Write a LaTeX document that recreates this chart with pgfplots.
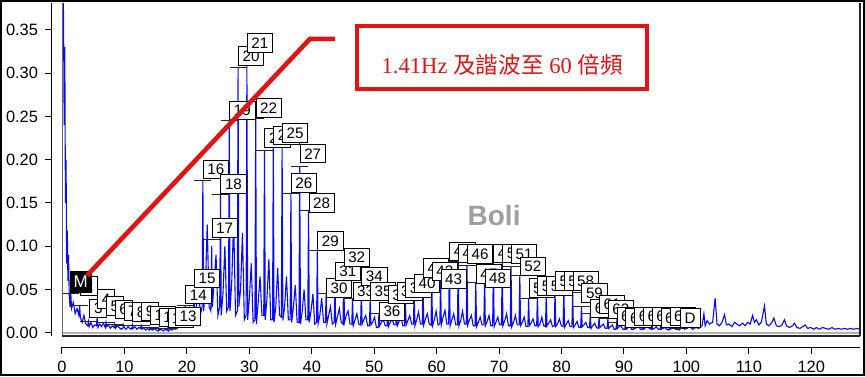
\documentclass[border=0pt]{standalone}
\usepackage{fontspec}
\setmainfont{Liberation Sans}
\newfontfamily\serifL{Liberation Serif}
\newfontfamily\cjk{Noto Sans CJK TC}
\usepackage{pgfplots}
\pgfplotsset{compat=1.18}
\definecolor{specblue}{RGB}{10,10,250}
\definecolor{annred}{RGB}{225,20,20}

\pgfplotstableread{
x y lab
2.95 0.043 2
4.40 0.017 3
5.64 0.028 4
7.05 0.020 5
8.46 0.016 6
9.87 0.014 7
11.28 0.013 8
12.69 0.014 9
14.10 0.009 10
15.51 0.007 11
16.92 0.006 12
18.10 0.008 13
19.74 0.033 14
21.15 0.052 15
22.56 0.178 16
23.97 0.110 17
25.38 0.161 18
26.79 0.246 19
28.20 0.309 20
29.61 0.324 21
31.02 0.249 22
32.43 0.214 23
33.84 0.217 24
35.25 0.220 25
36.66 0.162 26
38.07 0.196 27
39.48 0.139 28
40.89 0.095 29
42.30 0.041 30
43.71 0.060 31
45.12 0.076 32
46.53 0.037 33
47.94 0.054 34
49.35 0.037 35
50.76 0.014 36
52.17 0.033 37
53.58 0.037 38
54.99 0.041 39
56.40 0.046 40
57.81 0.064 41
59.22 0.060 42
60.63 0.051 43
62.04 0.083 44
63.45 0.081 45
64.86 0.080 46
66.27 0.057 47
67.68 0.052 48
69.09 0.081 49
70.50 0.081 50
71.91 0.080 51
73.32 0.066 52
74.73 0.041 53
76.14 0.043 54
77.55 0.043 55
78.96 0.049 56
80.37 0.049 57
81.78 0.049 58
83.19 0.035 59
84.60 0.017 60
86.01 0.022 61
87.42 0.016 62
88.83 0.008 63
90.24 0.006 64
91.65 0.008 65
93.06 0.008 66
94.47 0.008 67
95.88 0.006 68
97.29 0.008 69
99.00 0.006 D
}\labtable

\pgfplotstableread{
x y
1.41 0.045
2.82 0.032
4.23 0.013
5.64 0.018
7.05 0.012
8.46 0.010
9.87 0.009
11.28 0.009
12.69 0.008
14.10 0.006
15.51 0.005
16.92 0.005
18.33 0.007
19.74 0.031
21.15 0.052
22.56 0.176
23.97 0.108
25.38 0.160
26.79 0.245
28.20 0.307
29.61 0.310
31.02 0.248
32.43 0.211
33.84 0.219
35.25 0.215
36.66 0.161
38.07 0.192
39.48 0.141
40.89 0.095
42.30 0.045
43.71 0.058
45.12 0.074
46.53 0.040
47.94 0.047
49.35 0.038
50.76 0.022
52.17 0.028
53.58 0.033
54.99 0.040
56.40 0.048
57.81 0.062
59.22 0.058
60.63 0.062
62.04 0.082
63.45 0.083
64.86 0.078
66.27 0.058
67.68 0.066
69.09 0.081
70.50 0.081
71.91 0.077
73.32 0.066
74.73 0.040
76.14 0.043
77.55 0.045
78.96 0.048
80.37 0.049
81.78 0.047
83.19 0.030
84.60 0.022
86.01 0.018
87.42 0.016
88.83 0.012
90.24 0.010
91.65 0.010
93.06 0.009
94.47 0.009
95.88 0.008
97.29 0.007
98.90 0.005
}\peaktable

\begin{document}
\begin{tikzpicture}
\begin{axis}[
  scale only axis, width=399pt, height=166.5pt,
  xmin=0, xmax=127.8, ymin=-0.0038, ymax=0.381,
  axis lines=left, axis line style={-, black, line width=0.5pt},
  axis x line shift=5.5pt, axis y line shift=5pt,
  xtick={0,10,...,120}, ytick={0,0.05,0.1,0.15,0.2,0.25,0.3,0.35},
  tick align=outside, major tick length=3.5pt,
  tick style={black, line width=0.5pt},
  tick label style={font=\fontsize{8.2}{9}\selectfont},
  /pgf/number format/assume math mode=true,
  yticklabel style={/pgf/number format/fixed,/pgf/number format/precision=2,/pgf/number format/fixed zerofill},
  xticklabel style={/pgf/number format/fixed},
  clip mode=individual,
]
\coordinate (pll) at (rel axis cs:0,0);
\coordinate (pur) at (rel axis cs:1,1);

\draw[gray!60, line width=0.8pt] (axis cs:0,0) -- (axis cs:127.8,0);

\addplot[specblue, line width=0.55pt, mark=none] coordinates {
(0.00,0.60)(0.12,0.45)(0.25,0.36)(0.35,0.24)(0.45,0.33)(0.55,0.15)(0.65,0.20)(0.75,0.08)(0.85,0.118)(0.95,0.06)(1.05,0.09)(1.15,0.045)
(1.29,0.030)(1.41,0.045)(1.53,0.028)(1.81,0.035)(2.11,0.022)(2.41,0.028)
(2.70,0.020)(2.82,0.032)(2.94,0.018)(3.22,0.012)(3.52,0.020)(3.82,0.010)
(4.11,0.008)(4.23,0.013)(4.35,0.007)(4.63,0.012)(4.93,0.006)(5.23,0.009)
(5.52,0.008)(5.64,0.018)(5.76,0.006)(6.04,0.010)(6.34,0.007)(6.64,0.011)
(6.93,0.006)(7.05,0.012)(7.17,0.007)(7.45,0.009)(7.75,0.005)(8.05,0.008)
(8.34,0.006)(8.46,0.010)(8.58,0.005)(8.86,0.008)(9.16,0.006)(9.46,0.004)
(9.75,0.005)(9.87,0.009)(9.99,0.006)(10.27,0.004)(10.57,0.007)(10.87,0.005)
(11.16,0.004)(11.28,0.009)(11.40,0.005)(11.68,0.007)(11.98,0.004)(12.28,0.006)
(12.57,0.005)(12.69,0.008)(12.81,0.004)(13.09,0.006)(13.39,0.003)(13.69,0.005)
(13.98,0.003)(14.10,0.006)(14.22,0.004)(14.50,0.003)(14.80,0.005)(15.10,0.003)
(15.39,0.002)(15.51,0.005)(15.63,0.003)(15.91,0.004)(16.21,0.002)(16.51,0.004)
(16.80,0.003)(16.92,0.005)(17.04,0.002)(17.32,0.004)(17.62,0.003)(17.92,0.005)
(18.21,0.004)(18.33,0.007)(18.45,0.005)(18.73,0.008)(19.03,0.006)(19.33,0.010)
(19.62,0.012)(19.74,0.031)(19.86,0.010)(20.14,0.020)(20.44,0.028)(20.74,0.015)
(21.03,0.020)(21.15,0.052)(21.27,0.018)(21.55,0.030)(21.85,0.060)(22.15,0.020)
(22.44,0.030)(22.56,0.176)(22.68,0.025)(22.96,0.050)(23.26,0.125)(23.56,0.030)
(23.85,0.025)(23.97,0.100)(24.09,0.030)(24.37,0.060)(24.67,0.090)(24.97,0.020)
(25.26,0.030)(25.38,0.160)(25.50,0.020)(25.78,0.045)(26.08,0.100)(26.38,0.025)
(26.67,0.030)(26.79,0.245)(26.91,0.025)(27.19,0.060)(27.49,0.130)(27.79,0.020)
(28.08,0.025)(28.20,0.307)(28.32,0.030)(28.60,0.050)(28.90,0.115)(29.20,0.015)
(29.49,0.020)(29.61,0.310)(29.73,0.015)(30.01,0.040)(30.31,0.080)(30.61,0.012)
(30.90,0.015)(31.02,0.248)(31.14,0.010)(31.42,0.035)(31.72,0.065)(32.02,0.020)
(32.31,0.020)(32.43,0.211)(32.55,0.015)(32.83,0.040)(33.13,0.085)(33.43,0.015)
(33.72,0.015)(33.84,0.219)(33.96,0.012)(34.24,0.030)(34.54,0.075)(34.84,0.020)
(35.13,0.018)(35.25,0.215)(35.37,0.014)(35.65,0.030)(35.95,0.065)(36.25,0.015)
(36.54,0.015)(36.66,0.161)(36.78,0.012)(37.06,0.030)(37.36,0.055)(37.66,0.012)
(37.95,0.012)(38.07,0.192)(38.19,0.010)(38.47,0.025)(38.77,0.050)(39.07,0.015)
(39.36,0.015)(39.48,0.141)(39.60,0.012)(39.88,0.025)(40.18,0.045)(40.48,0.010)
(40.77,0.012)(40.89,0.095)(41.01,0.010)(41.29,0.020)(41.59,0.040)(41.89,0.012)
(42.18,0.012)(42.30,0.045)(42.42,0.010)(42.70,0.020)(43.00,0.030)(43.30,0.010)
(43.59,0.012)(43.71,0.058)(43.83,0.010)(44.11,0.018)(44.41,0.028)(44.71,0.012)
(45.00,0.010)(45.12,0.074)(45.24,0.012)(45.52,0.020)(45.82,0.025)(46.12,0.010)
(46.41,0.010)(46.53,0.040)(46.65,0.008)(46.93,0.015)(47.23,0.022)(47.53,0.010)
(47.82,0.009)(47.94,0.047)(48.06,0.010)(48.34,0.015)(48.64,0.020)(48.94,0.008)
(49.23,0.008)(49.35,0.038)(49.47,0.009)(49.75,0.012)(50.05,0.018)(50.35,0.006)
(50.64,0.006)(50.76,0.022)(50.88,0.008)(51.16,0.012)(51.46,0.015)(51.76,0.008)
(52.05,0.008)(52.17,0.028)(52.29,0.007)(52.57,0.012)(52.87,0.016)(53.17,0.009)
(53.46,0.009)(53.58,0.033)(53.70,0.008)(53.98,0.013)(54.28,0.018)(54.58,0.008)
(54.87,0.008)(54.99,0.040)(55.11,0.009)(55.39,0.014)(55.69,0.020)(55.99,0.010)
(56.28,0.010)(56.40,0.048)(56.52,0.008)(56.80,0.015)(57.10,0.024)(57.40,0.010)
(57.69,0.010)(57.81,0.062)(57.93,0.009)(58.21,0.016)(58.51,0.022)(58.81,0.010)
(59.10,0.009)(59.22,0.058)(59.34,0.008)(59.62,0.015)(59.92,0.025)(60.22,0.009)
(60.51,0.010)(60.63,0.062)(60.75,0.009)(61.03,0.018)(61.33,0.026)(61.63,0.010)
(61.92,0.010)(62.04,0.082)(62.16,0.008)(62.44,0.015)(62.74,0.022)(63.04,0.009)
(63.33,0.009)(63.45,0.083)(63.57,0.008)(63.85,0.014)(64.15,0.025)(64.45,0.010)
(64.74,0.010)(64.86,0.078)(64.98,0.009)(65.26,0.015)(65.56,0.020)(65.86,0.008)
(66.15,0.008)(66.27,0.058)(66.39,0.007)(66.67,0.012)(66.97,0.018)(67.27,0.009)
(67.56,0.009)(67.68,0.066)(67.80,0.008)(68.08,0.013)(68.38,0.020)(68.68,0.008)
(68.97,0.008)(69.09,0.081)(69.21,0.007)(69.49,0.012)(69.79,0.018)(70.09,0.009)
(70.38,0.009)(70.50,0.081)(70.62,0.008)(70.90,0.014)(71.20,0.022)(71.50,0.008)
(71.79,0.008)(71.91,0.077)(72.03,0.007)(72.31,0.012)(72.61,0.020)(72.91,0.009)
(73.20,0.009)(73.32,0.066)(73.44,0.008)(73.72,0.012)(74.02,0.018)(74.32,0.007)
(74.61,0.007)(74.73,0.040)(74.85,0.008)(75.13,0.011)(75.43,0.016)(75.73,0.008)
(76.02,0.008)(76.14,0.043)(76.26,0.007)(76.54,0.010)(76.84,0.018)(77.14,0.008)
(77.43,0.007)(77.55,0.045)(77.67,0.008)(77.95,0.011)(78.25,0.015)(78.55,0.007)
(78.84,0.008)(78.96,0.048)(79.08,0.007)(79.36,0.010)(79.66,0.016)(79.96,0.008)
(80.25,0.007)(80.37,0.049)(80.49,0.006)(80.77,0.010)(81.07,0.014)(81.37,0.007)
(81.66,0.007)(81.78,0.047)(81.90,0.006)(82.18,0.009)(82.48,0.013)(82.78,0.006)
(83.07,0.006)(83.19,0.030)(83.31,0.007)(83.59,0.009)(83.89,0.012)(84.19,0.006)
(84.48,0.006)(84.60,0.022)(84.72,0.005)(85.00,0.008)(85.30,0.011)(85.60,0.006)
(85.89,0.005)(86.01,0.018)(86.13,0.006)(86.41,0.008)(86.71,0.010)(87.01,0.005)
(87.30,0.005)(87.42,0.016)(87.54,0.005)(87.82,0.007)(88.12,0.009)(88.42,0.004)
(88.71,0.004)(88.83,0.012)(88.95,0.005)(89.23,0.007)(89.53,0.008)(89.83,0.004)
(90.12,0.004)(90.24,0.010)(90.36,0.004)(90.64,0.006)(90.94,0.008)(91.24,0.004)
(91.53,0.004)(91.65,0.010)(91.77,0.005)(92.05,0.006)(92.35,0.007)(92.65,0.004)
(92.94,0.004)(93.06,0.009)(93.18,0.004)(93.46,0.006)(93.76,0.007)(94.06,0.005)
(94.35,0.004)(94.47,0.009)(94.59,0.004)(94.87,0.005)(95.17,0.007)(95.47,0.004)
(95.76,0.004)(95.88,0.008)(96.00,0.004)(96.28,0.005)(96.58,0.006)(96.88,0.004)
(97.17,0.003)(97.29,0.007)(97.41,0.004)(97.69,0.005)(97.99,0.006)(98.29,0.004)
(98.58,0.004)(98.70,0.006)(98.82,0.003)(99.10,0.005)(99.40,0.006)(99.70,0.004)
(100.0,0.005)(100.5,0.007)(101.0,0.004)(101.5,0.006)(102.0,0.005)(102.5,0.008)
(102.8,0.022)(103.0,0.008)(103.3,0.014)(103.7,0.010)(104.2,0.012)(104.6,0.040)
(104.9,0.010)(105.3,0.008)(105.7,0.012)(106.1,0.021)(106.4,0.009)(106.8,0.010)
(107.3,0.007)(107.7,0.012)(108.1,0.010)(108.5,0.008)(109.0,0.011)(109.4,0.008)
(109.8,0.012)(110.2,0.010)(110.6,0.020)(110.9,0.012)(111.2,0.015)(111.6,0.009)
(112.0,0.012)(112.5,0.031)(112.8,0.010)(113.2,0.008)(113.7,0.012)(114.0,0.017)
(114.4,0.008)(114.9,0.007)(115.3,0.009)(115.7,0.015)(116.0,0.008)(116.5,0.006)
(117.0,0.008)(117.3,0.011)(117.7,0.006)(118.2,0.005)(118.6,0.007)(119.0,0.009)
(119.4,0.005)(119.9,0.006)(120.4,0.004)(120.8,0.006)(121.3,0.004)(121.8,0.006)
(122.3,0.005)(122.8,0.004)(123.3,0.006)(123.8,0.004)(124.3,0.005)(124.8,0.004)
(125.3,0.005)(125.8,0.004)(126.3,0.005)(126.8,0.004)(127.3,0.005)(127.8,0.004)
};

% peak marker lines
\addplot[only marks, mark=-, mark size=4.25pt, mark options={black!85, line width=0.4pt}] table[x=x,y=y] {\peaktable};

% harmonic number labels
\addplot[only marks, mark=none, nodes near coords, point meta=explicit symbolic,
  every node near coord/.append style={anchor=south west, draw=black, line width=0.35pt, fill=white, text=black,
    font=\fontsize{7.6}{8}\selectfont, text height=5.5pt, text depth=0pt, inner xsep=2.1pt, inner ysep=1.85pt}]
  table[x=x,y=y,meta=lab] {\labtable};

% marker M
\addplot[only marks, mark=none, nodes near coords={M},
  every node near coord/.append style={anchor=south west, draw=black, fill=black, text=white,
    font=\fontsize{8.5}{9}\selectfont, text height=6.2pt, text depth=0pt, inner xsep=1.6pt, inner ysep=2.3pt}]
  coordinates {(1.30,0.046)};

% annotation
\draw[annred, line width=2.3pt] (axis cs:4.0,0.066) -- (axis cs:39.7,0.3395) -- (axis cs:43.75,0.3395);
\draw[annred, line width=2pt, fill=white] (axis cs:47.3,0.2816) rectangle (axis cs:93.75,0.3546);
\node[text=annred, font=\fontsize{11.3}{13}\selectfont] at (axis cs:70.5,0.3095)
  {\serifL 1.41Hz {\cjk 及諧波至} 60 {\cjk 倍頻}};
\node[text=gray!75, font=\bfseries\fontsize{14}{16}\selectfont] at (axis cs:69.2,0.1356) {Boli};
\end{axis}
\draw[black!60, line width=0.5pt] (pll) -- (pll |- pur);
\draw[black!85, line width=0.6pt] (pll) -- (pur |- pll);
\draw[black!85, line width=0.6pt] (pur |- pll) -- (pur);
\draw[line width=1pt] ([shift={(-30.5pt,-19.5pt)}]pll) rectangle ([shift={(2pt,1pt)}]pur);
\pgfresetboundingbox
\path[use as bounding box] ([shift={(-31pt,-20pt)}]pll) rectangle ([shift={(2.5pt,1.5pt)}]pur);
\end{tikzpicture}
\end{document}
